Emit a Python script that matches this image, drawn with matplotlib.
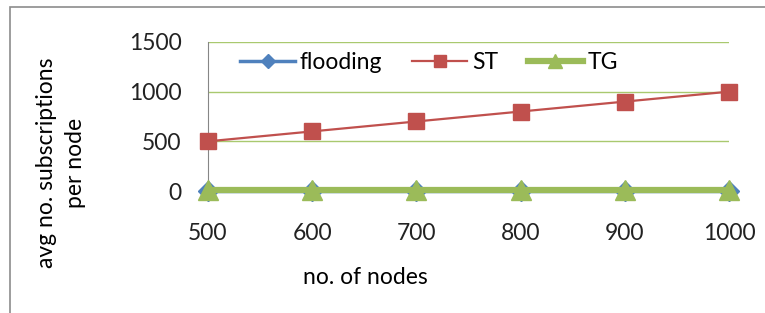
import matplotlib.pyplot as plt
from matplotlib.patches import Rectangle

# data
nodes = ['500', '600', '700', '800', '900', '1000']
flooding = [0, 0, 0, 0, 0, 0]
st = [500, 600, 700, 800, 900, 1000]
tg = [15, 15, 15, 15, 15, 15]
y_ticks = [0, 500, 1000, 1500]

plt.rcParams['font.family'] = ['Lato', 'DejaVu Sans']
plt.rcParams['font.size'] = 16.5

blue = '#4F81BD'
red = '#C0504D'
green = '#9BBB59'
grid_green = '#A9C96F'
axis_gray = '#868686'

fig = plt.figure(figsize=(7.65, 3.13), dpi=100)
ax = fig.add_axes([208 / 765, 1 - 191 / 313, 521 / 765, 149 / 313])

x = range(len(nodes))
ax.plot(x, flooding, color=blue, lw=2.5, marker='D', markersize=10,
        markeredgecolor=blue, label='flooding', clip_on=False, zorder=3)
ax.plot(x, st, color=red, lw=1.6, marker='s', markersize=12,
        markeredgecolor=red, label='ST', clip_on=False, zorder=4)
ax.plot(x, tg, color=green, lw=4.5, marker='^', markersize=14,
        markeredgecolor=green, label='TG', clip_on=False, zorder=4)

ax.set_xlim(0, len(nodes) - 1)
ax.set_ylim(0, 1500)
ax.set_xticks(list(x))
ax.set_xticklabels(nodes)
ax.set_yticks(y_ticks)
ax.set_yticklabels([str(v) for v in y_ticks])
ax.tick_params(axis='y', length=0, pad=19, colors='#222222')
ax.tick_params(axis='x', length=0, pad=23, colors='#222222')

for v in y_ticks[1:]:
    ax.axhline(v, color=grid_green, lw=1.0, zorder=1)

for side in ['top', 'right']:
    ax.spines[side].set_visible(False)
ax.spines['left'].set_color(axis_gray)
ax.spines['bottom'].set_color(axis_gray)

ax.legend(loc='center left', bbox_to_anchor=(0.062, 0.86), ncol=3,
          frameon=False, handlelength=2.4, handletextpad=0.2,
          columnspacing=1.3, borderaxespad=0, borderpad=0, markerscale=0.75)

fig.text(365 / 765, 1 - 278 / 313, 'no. of nodes', ha='center', va='center')
fig.text(61 / 765, 1 - 163 / 313, 'avg no. subscriptions\nper node',
         ha='center', va='center', rotation=90, multialignment='center',
         linespacing=1.45)

# outer frame of the chart area
fig.patches.append(Rectangle((10 / 765, -0.1), 1.0, 1 - 7 / 313 + 0.1,
                             transform=fig.transFigure, fill=False,
                             edgecolor='#8C8C8C', lw=1.2))

plt.savefig('out.png', dpi=100)
